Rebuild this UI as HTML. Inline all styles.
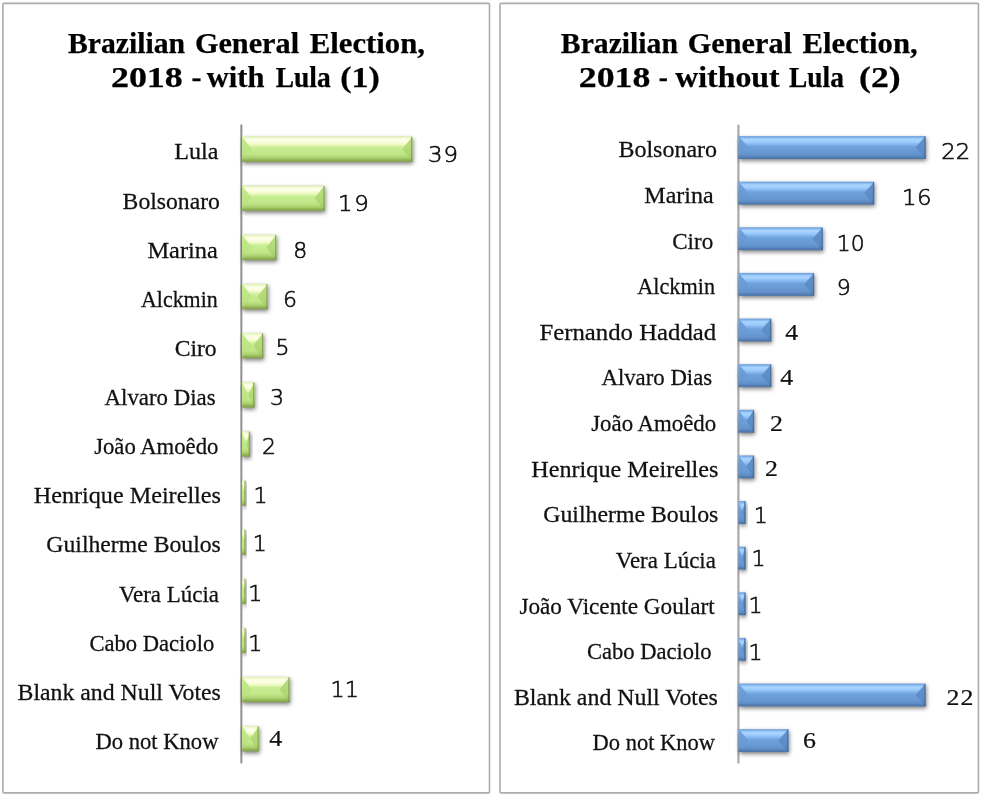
<!DOCTYPE html>
<html lang="en"><head><meta charset="utf-8"><title>Brazilian General Election, 2018</title>
<style>
html,body{margin:0;padding:0;background:#fff}
body{width:982px;height:797px;overflow:hidden}
svg{display:block}
.t{font-family:"Liberation Serif", "DejaVu Serif", serif;font-weight:bold;font-size:28.5px;fill:#000;stroke:#000;stroke-width:0.25px}
.l{font-family:"Liberation Serif", "DejaVu Serif", serif;font-size:23px;fill:#111;stroke:#111;stroke-width:0.26px}
.ns{font-family:"DejaVu Sans Light", "DejaVu Sans", "Liberation Sans", sans-serif;font-size:20.6px;fill:#0c0c0c;stroke:#0c0c0c;stroke-width:0.58px}
.nr{font-family:"Liberation Serif", "DejaVu Serif", serif;font-size:22.3px;fill:#111;stroke:#111;stroke-width:0.2px}
</style></head><body>
<svg width="982" height="797" viewBox="0 0 982 797">
<defs>
<filter id="sh" x="-20%" y="-40%" width="150%" height="200%"><feGaussianBlur in="SourceAlpha" stdDeviation="2"/><feOffset dx="1.2" dy="2.4"/><feComponentTransfer><feFuncA type="linear" slope="0.5"/></feComponentTransfer></filter>
<linearGradient id="gBody" x1="0" y1="0" x2="0" y2="1"><stop offset="0" stop-color="#dcefac"/><stop offset="0.05" stop-color="#eef8cc"/><stop offset="0.12" stop-color="#fcffe6"/><stop offset="0.22" stop-color="#fbfee0"/><stop offset="0.32" stop-color="#eef9c0"/><stop offset="0.42" stop-color="#c9ee95"/><stop offset="0.70" stop-color="#bfe687"/><stop offset="0.85" stop-color="#a9cf6c"/><stop offset="0.9" stop-color="#97b95c"/><stop offset="1" stop-color="#839f4b"/></linearGradient>
<linearGradient id="gSide" x1="0" y1="0" x2="0" y2="1"><stop offset="0" stop-color="#c4eb8c"/><stop offset="0.70" stop-color="#bbe283"/><stop offset="0.85" stop-color="#aed471"/><stop offset="0.9" stop-color="#9dc062"/><stop offset="1" stop-color="#89a851"/></linearGradient>
<linearGradient id="gSideR" x1="0" y1="0" x2="0" y2="1"><stop offset="0" stop-color="#bbe282"/><stop offset="0.70" stop-color="#aed673"/><stop offset="0.85" stop-color="#a5ca69"/><stop offset="0.9" stop-color="#96b85c"/><stop offset="1" stop-color="#84a24e"/></linearGradient>
<linearGradient id="bBody" x1="0" y1="0" x2="0" y2="1"><stop offset="0" stop-color="#6d9edb"/><stop offset="0.07" stop-color="#86b6ee"/><stop offset="0.14" stop-color="#a8d4ff"/><stop offset="0.25" stop-color="#a0cdfc"/><stop offset="0.36" stop-color="#86b7ef"/><stop offset="0.46" stop-color="#6fa2dc"/><stop offset="0.75" stop-color="#6797d1"/><stop offset="0.87" stop-color="#5f8dc5"/><stop offset="0.91" stop-color="#5580b7"/><stop offset="1" stop-color="#4b73a7"/></linearGradient>
<linearGradient id="bSide" x1="0" y1="0" x2="0" y2="1"><stop offset="0" stop-color="#70a4e0"/><stop offset="0.75" stop-color="#6797d1"/><stop offset="0.87" stop-color="#5f8dc5"/><stop offset="0.91" stop-color="#5580b7"/><stop offset="1" stop-color="#4b73a7"/></linearGradient>
<linearGradient id="bSideR" x1="0" y1="0" x2="0" y2="1"><stop offset="0" stop-color="#6393cf"/><stop offset="0.75" stop-color="#5b8ac4"/><stop offset="0.87" stop-color="#5481b9"/><stop offset="0.91" stop-color="#4c76ab"/><stop offset="1" stop-color="#446b9d"/></linearGradient>
</defs>
<rect width="982" height="797" fill="#fff"/>

<rect x="2.85" y="3.4" width="486.65" height="789.5" rx="1" fill="#fff" stroke="#acacac" stroke-width="1.6"/>
<text class="t" y="53.3"><tspan x="68.03" textLength="117.01" lengthAdjust="spacingAndGlyphs">Brazilian</tspan> <tspan x="194.91" textLength="104.17" lengthAdjust="spacingAndGlyphs">General</tspan> <tspan x="309.76" textLength="115.25" lengthAdjust="spacingAndGlyphs">Election,</tspan></text>
<text class="t" y="87.2"><tspan x="110.92" textLength="71.94" lengthAdjust="spacingAndGlyphs">2018</tspan> <tspan x="191.45" textLength="10.01" lengthAdjust="spacingAndGlyphs">-</tspan> <tspan x="206.8" textLength="57.57" lengthAdjust="spacingAndGlyphs">with</tspan> <tspan x="275.72" textLength="54.99" lengthAdjust="spacingAndGlyphs">Lula</tspan> <tspan x="340.21" textLength="39.56" lengthAdjust="spacingAndGlyphs">(1)</tspan></text>
<line x1="241.35" y1="124.6" x2="241.35" y2="763.3" stroke="#909090" stroke-width="2"/>
<g>
<rect x="242" y="136.47" width="170.25" height="25.4" fill="#000" filter="url(#sh)"/>
<rect x="242" y="136.47" width="170.25" height="25.4" fill="url(#gBody)"/>
<path d="M242 136.47L252 149.17L242 161.87Z" fill="url(#gSide)"/>
<path d="M412.25 136.47L402.25 149.17L412.25 161.87Z" fill="url(#gSideR)"/>
<rect x="411.05" y="136.97" width="1.2" height="24.9" fill="#7d9a4b" opacity="0.8"/>
</g>
<g>
<rect x="242" y="185.6" width="82.53" height="25.4" fill="#000" filter="url(#sh)"/>
<rect x="242" y="185.6" width="82.53" height="25.4" fill="url(#gBody)"/>
<path d="M242 185.6L252 198.3L242 211Z" fill="url(#gSide)"/>
<path d="M324.53 185.6L314.53 198.3L324.53 211Z" fill="url(#gSideR)"/>
<rect x="323.33" y="186.1" width="1.2" height="24.9" fill="#7d9a4b" opacity="0.8"/>
</g>
<g>
<rect x="242" y="234.73" width="34.29" height="25.4" fill="#000" filter="url(#sh)"/>
<rect x="242" y="234.73" width="34.29" height="25.4" fill="url(#gBody)"/>
<path d="M242 234.73L252 247.43L242 260.13Z" fill="url(#gSide)"/>
<path d="M276.29 234.73L266.29 247.43L276.29 260.13Z" fill="url(#gSideR)"/>
<rect x="275.09" y="235.23" width="1.2" height="24.9" fill="#7d9a4b" opacity="0.8"/>
</g>
<g>
<rect x="242" y="283.86" width="25.52" height="25.4" fill="#000" filter="url(#sh)"/>
<rect x="242" y="283.86" width="25.52" height="25.4" fill="url(#gBody)"/>
<path d="M242 283.86L252 296.56L242 309.26Z" fill="url(#gSide)"/>
<path d="M267.52 283.86L257.52 296.56L267.52 309.26Z" fill="url(#gSideR)"/>
<rect x="266.32" y="284.36" width="1.2" height="24.9" fill="#7d9a4b" opacity="0.8"/>
</g>
<g>
<rect x="242" y="332.99" width="21.13" height="25.4" fill="#000" filter="url(#sh)"/>
<rect x="242" y="332.99" width="21.13" height="25.4" fill="url(#gBody)"/>
<path d="M242 332.99L252 345.69L242 358.39Z" fill="url(#gSide)"/>
<path d="M263.13 332.99L253.13 345.69L263.13 358.39Z" fill="url(#gSideR)"/>
<rect x="261.93" y="333.49" width="1.2" height="24.9" fill="#7d9a4b" opacity="0.8"/>
</g>
<g>
<rect x="242" y="382.12" width="12.36" height="25.4" fill="#000" filter="url(#sh)"/>
<rect x="242" y="382.12" width="12.36" height="25.4" fill="url(#gBody)"/>
<path d="M242 382.12L248.18 394.82L242 407.52Z" fill="url(#gSide)"/>
<path d="M254.36 382.12L248.18 394.82L254.36 407.52Z" fill="url(#gSideR)"/>
<rect x="253.16" y="382.62" width="1.2" height="24.9" fill="#7d9a4b" opacity="0.8"/>
</g>
<g>
<rect x="242" y="431.25" width="7.97" height="25.4" fill="#000" filter="url(#sh)"/>
<rect x="242" y="431.25" width="7.97" height="25.4" fill="url(#gBody)"/>
<path d="M242 431.25L245.99 443.95L242 456.65Z" fill="url(#gSide)"/>
<path d="M249.97 431.25L245.99 443.95L249.97 456.65Z" fill="url(#gSideR)"/>
<rect x="248.77" y="431.75" width="1.2" height="24.9" fill="#7d9a4b" opacity="0.8"/>
</g>
<g>
<rect x="242" y="480.38" width="3.59" height="25.4" fill="#000" filter="url(#sh)"/>
<rect x="242" y="480.38" width="3.59" height="25.4" fill="url(#gBody)"/>
<path d="M242 480.38L243.79 493.08L242 505.78Z" fill="url(#gSide)"/>
<path d="M245.59 480.38L243.79 493.08L245.59 505.78Z" fill="url(#gSideR)"/>
<rect x="244.39" y="480.88" width="1.2" height="24.9" fill="#7d9a4b" opacity="0.8"/>
</g>
<g>
<rect x="242" y="529.51" width="3.59" height="25.4" fill="#000" filter="url(#sh)"/>
<rect x="242" y="529.51" width="3.59" height="25.4" fill="url(#gBody)"/>
<path d="M242 529.51L243.79 542.21L242 554.91Z" fill="url(#gSide)"/>
<path d="M245.59 529.51L243.79 542.21L245.59 554.91Z" fill="url(#gSideR)"/>
<rect x="244.39" y="530.01" width="1.2" height="24.9" fill="#7d9a4b" opacity="0.8"/>
</g>
<g>
<rect x="242" y="578.64" width="3.59" height="25.4" fill="#000" filter="url(#sh)"/>
<rect x="242" y="578.64" width="3.59" height="25.4" fill="url(#gBody)"/>
<path d="M242 578.64L243.79 591.34L242 604.04Z" fill="url(#gSide)"/>
<path d="M245.59 578.64L243.79 591.34L245.59 604.04Z" fill="url(#gSideR)"/>
<rect x="244.39" y="579.14" width="1.2" height="24.9" fill="#7d9a4b" opacity="0.8"/>
</g>
<g>
<rect x="242" y="627.77" width="3.59" height="25.4" fill="#000" filter="url(#sh)"/>
<rect x="242" y="627.77" width="3.59" height="25.4" fill="url(#gBody)"/>
<path d="M242 627.77L243.79 640.47L242 653.17Z" fill="url(#gSide)"/>
<path d="M245.59 627.77L243.79 640.47L245.59 653.17Z" fill="url(#gSideR)"/>
<rect x="244.39" y="628.27" width="1.2" height="24.9" fill="#7d9a4b" opacity="0.8"/>
</g>
<g>
<rect x="242" y="676.9" width="47.45" height="25.4" fill="#000" filter="url(#sh)"/>
<rect x="242" y="676.9" width="47.45" height="25.4" fill="url(#gBody)"/>
<path d="M242 676.9L252 689.6L242 702.3Z" fill="url(#gSide)"/>
<path d="M289.45 676.9L279.45 689.6L289.45 702.3Z" fill="url(#gSideR)"/>
<rect x="288.25" y="677.4" width="1.2" height="24.9" fill="#7d9a4b" opacity="0.8"/>
</g>
<g>
<rect x="242" y="726.03" width="16.74" height="25.4" fill="#000" filter="url(#sh)"/>
<rect x="242" y="726.03" width="16.74" height="25.4" fill="url(#gBody)"/>
<path d="M242 726.03L250.37 738.73L242 751.43Z" fill="url(#gSide)"/>
<path d="M258.74 726.03L250.37 738.73L258.74 751.43Z" fill="url(#gSideR)"/>
<rect x="257.54" y="726.53" width="1.2" height="24.9" fill="#7d9a4b" opacity="0.8"/>
</g>
<text class="l" x="174.31" y="159.37" textLength="44.16" lengthAdjust="spacingAndGlyphs">Lula</text>
<text class="l" x="122.63" y="208.5" textLength="97.31" lengthAdjust="spacingAndGlyphs">Bolsonaro</text>
<text class="l" x="147.4" y="257.63" textLength="70.54" lengthAdjust="spacingAndGlyphs">Marina</text>
<text class="l" x="140.96" y="306.76" textLength="76.78" lengthAdjust="spacingAndGlyphs">Alckmin</text>
<text class="l" x="174.67" y="355.89" textLength="41.94" lengthAdjust="spacingAndGlyphs">Ciro</text>
<text class="l" x="104.55" y="405.02" textLength="111.02" lengthAdjust="spacingAndGlyphs">Alvaro Dias</text>
<text class="l" x="94.21" y="454.15" textLength="124.14" lengthAdjust="spacingAndGlyphs">João Amoêdo</text>
<text class="l" x="33.71" y="503.28" textLength="187.27" lengthAdjust="spacingAndGlyphs">Henrique Meirelles</text>
<text class="l" x="46.37" y="552.41" textLength="174.45" lengthAdjust="spacingAndGlyphs">Guilherme Boulos</text>
<text class="l" x="118.95" y="601.54" textLength="100.1" lengthAdjust="spacingAndGlyphs">Vera Lúcia</text>
<text class="l" x="89.42" y="650.67" textLength="124.83" lengthAdjust="spacingAndGlyphs">Cabo Daciolo</text>
<text class="l" x="17.52" y="699.8" textLength="203.33" lengthAdjust="spacingAndGlyphs">Blank and Null Votes</text>
<text class="l" x="95.46" y="748.93" textLength="123.02" lengthAdjust="spacingAndGlyphs">Do not Know</text>
<text class="ns" transform="matrix(1.11 0 0 1 0 0)" x="385.53" y="162.3" style="letter-spacing:0.964px">39</text>
<text class="ns" transform="matrix(1.11 0 0 1 0 0)" x="304.42" y="210.9" style="letter-spacing:1.534px">19</text>
<text class="ns" x="293.16" y="257.6" textLength="14.03" lengthAdjust="spacingAndGlyphs">8</text>
<text class="ns" x="282.96" y="307" textLength="14.03" lengthAdjust="spacingAndGlyphs">6</text>
<text class="ns" x="275.63" y="355.1" textLength="14.03" lengthAdjust="spacingAndGlyphs">5</text>
<text class="ns" x="270.11" y="405.4" textLength="14.03" lengthAdjust="spacingAndGlyphs">3</text>
<text class="ns" x="261.96" y="453.6" textLength="14.03" lengthAdjust="spacingAndGlyphs">2</text>
<text class="ns" x="253.4" y="503.3" textLength="14.03" lengthAdjust="spacingAndGlyphs">1</text>
<text class="ns" x="252.65" y="550.8" textLength="14.03" lengthAdjust="spacingAndGlyphs">1</text>
<text class="ns" x="248.34" y="601.3" textLength="14.03" lengthAdjust="spacingAndGlyphs">1</text>
<text class="ns" x="248.34" y="650.9" textLength="14.03" lengthAdjust="spacingAndGlyphs">1</text>
<text class="ns" x="330.57" y="697.4" textLength="28.29" lengthAdjust="spacingAndGlyphs">11</text>
<text class="nr" x="269.23" y="745.5" textLength="12.94" lengthAdjust="spacingAndGlyphs">4</text>
<rect x="500" y="3.4" width="478.45" height="789.5" rx="1" fill="#fff" stroke="#acacac" stroke-width="1.6"/>
<text class="t" y="53.3"><tspan x="560.88" textLength="117.01" lengthAdjust="spacingAndGlyphs">Brazilian</tspan> <tspan x="687.76" textLength="104.17" lengthAdjust="spacingAndGlyphs">General</tspan> <tspan x="802.61" textLength="115.1" lengthAdjust="spacingAndGlyphs">Election,</tspan></text>
<text class="t" y="87.2"><tspan x="578.83" textLength="71.52" lengthAdjust="spacingAndGlyphs">2018</tspan> <tspan x="658.84" textLength="9.12" lengthAdjust="spacingAndGlyphs">-</tspan> <tspan x="675.3" textLength="104.31" lengthAdjust="spacingAndGlyphs">without</tspan> <tspan x="789.02" textLength="54.89" lengthAdjust="spacingAndGlyphs">Lula</tspan> <tspan x="859.03" textLength="41.61" lengthAdjust="spacingAndGlyphs">(2)</tspan></text>
<line x1="738.4" y1="124.7" x2="738.4" y2="763.4" stroke="#a9a9a9" stroke-width="2.2"/>
<g>
<rect x="738.6" y="136.06" width="186.95" height="22.9" fill="#000" filter="url(#sh)"/>
<rect x="738.6" y="136.06" width="186.95" height="22.9" fill="url(#bBody)"/>
<path d="M738.6 136.06L748.6 147.51L738.6 158.96Z" fill="url(#bSide)"/>
<path d="M925.55 136.06L915.55 147.51L925.55 158.96Z" fill="url(#bSideR)"/>
<rect x="924.35" y="136.56" width="1.2" height="22.4" fill="#436a9b" opacity="0.8"/>
</g>
<g>
<rect x="738.6" y="181.68" width="135.5" height="22.9" fill="#000" filter="url(#sh)"/>
<rect x="738.6" y="181.68" width="135.5" height="22.9" fill="url(#bBody)"/>
<path d="M738.6 181.68L748.6 193.13L738.6 204.58Z" fill="url(#bSide)"/>
<path d="M874.1 181.68L864.1 193.13L874.1 204.58Z" fill="url(#bSideR)"/>
<rect x="872.9" y="182.18" width="1.2" height="22.4" fill="#436a9b" opacity="0.8"/>
</g>
<g>
<rect x="738.6" y="227.3" width="84.05" height="22.9" fill="#000" filter="url(#sh)"/>
<rect x="738.6" y="227.3" width="84.05" height="22.9" fill="url(#bBody)"/>
<path d="M738.6 227.3L748.6 238.75L738.6 250.2Z" fill="url(#bSide)"/>
<path d="M822.65 227.3L812.65 238.75L822.65 250.2Z" fill="url(#bSideR)"/>
<rect x="821.45" y="227.8" width="1.2" height="22.4" fill="#436a9b" opacity="0.8"/>
</g>
<g>
<rect x="738.6" y="272.93" width="75.47" height="22.9" fill="#000" filter="url(#sh)"/>
<rect x="738.6" y="272.93" width="75.47" height="22.9" fill="url(#bBody)"/>
<path d="M738.6 272.93L748.6 284.38L738.6 295.82Z" fill="url(#bSide)"/>
<path d="M814.07 272.93L804.07 284.38L814.07 295.82Z" fill="url(#bSideR)"/>
<rect x="812.87" y="273.43" width="1.2" height="22.4" fill="#436a9b" opacity="0.8"/>
</g>
<g>
<rect x="738.6" y="318.55" width="32.6" height="22.9" fill="#000" filter="url(#sh)"/>
<rect x="738.6" y="318.55" width="32.6" height="22.9" fill="url(#bBody)"/>
<path d="M738.6 318.55L748.6 330L738.6 341.45Z" fill="url(#bSide)"/>
<path d="M771.2 318.55L761.2 330L771.2 341.45Z" fill="url(#bSideR)"/>
<rect x="770" y="319.05" width="1.2" height="22.4" fill="#436a9b" opacity="0.8"/>
</g>
<g>
<rect x="738.6" y="364.17" width="32.6" height="22.9" fill="#000" filter="url(#sh)"/>
<rect x="738.6" y="364.17" width="32.6" height="22.9" fill="url(#bBody)"/>
<path d="M738.6 364.17L748.6 375.62L738.6 387.07Z" fill="url(#bSide)"/>
<path d="M771.2 364.17L761.2 375.62L771.2 387.07Z" fill="url(#bSideR)"/>
<rect x="770" y="364.67" width="1.2" height="22.4" fill="#436a9b" opacity="0.8"/>
</g>
<g>
<rect x="738.6" y="409.79" width="15.45" height="22.9" fill="#000" filter="url(#sh)"/>
<rect x="738.6" y="409.79" width="15.45" height="22.9" fill="url(#bBody)"/>
<path d="M738.6 409.79L746.33 421.24L738.6 432.69Z" fill="url(#bSide)"/>
<path d="M754.05 409.79L746.33 421.24L754.05 432.69Z" fill="url(#bSideR)"/>
<rect x="752.85" y="410.29" width="1.2" height="22.4" fill="#436a9b" opacity="0.8"/>
</g>
<g>
<rect x="738.6" y="455.41" width="15.45" height="22.9" fill="#000" filter="url(#sh)"/>
<rect x="738.6" y="455.41" width="15.45" height="22.9" fill="url(#bBody)"/>
<path d="M738.6 455.41L746.33 466.86L738.6 478.31Z" fill="url(#bSide)"/>
<path d="M754.05 455.41L746.33 466.86L754.05 478.31Z" fill="url(#bSideR)"/>
<rect x="752.85" y="455.91" width="1.2" height="22.4" fill="#436a9b" opacity="0.8"/>
</g>
<g>
<rect x="738.6" y="501.03" width="6.88" height="22.9" fill="#000" filter="url(#sh)"/>
<rect x="738.6" y="501.03" width="6.88" height="22.9" fill="url(#bBody)"/>
<path d="M738.6 501.03L742.04 512.48L738.6 523.93Z" fill="url(#bSide)"/>
<path d="M745.48 501.03L742.04 512.48L745.48 523.93Z" fill="url(#bSideR)"/>
<rect x="744.27" y="501.53" width="1.2" height="22.4" fill="#436a9b" opacity="0.8"/>
</g>
<g>
<rect x="738.6" y="546.65" width="6.88" height="22.9" fill="#000" filter="url(#sh)"/>
<rect x="738.6" y="546.65" width="6.88" height="22.9" fill="url(#bBody)"/>
<path d="M738.6 546.65L742.04 558.1L738.6 569.55Z" fill="url(#bSide)"/>
<path d="M745.48 546.65L742.04 558.1L745.48 569.55Z" fill="url(#bSideR)"/>
<rect x="744.27" y="547.15" width="1.2" height="22.4" fill="#436a9b" opacity="0.8"/>
</g>
<g>
<rect x="738.6" y="592.27" width="6.88" height="22.9" fill="#000" filter="url(#sh)"/>
<rect x="738.6" y="592.27" width="6.88" height="22.9" fill="url(#bBody)"/>
<path d="M738.6 592.27L742.04 603.73L738.6 615.18Z" fill="url(#bSide)"/>
<path d="M745.48 592.27L742.04 603.73L745.48 615.18Z" fill="url(#bSideR)"/>
<rect x="744.27" y="592.77" width="1.2" height="22.4" fill="#436a9b" opacity="0.8"/>
</g>
<g>
<rect x="738.6" y="637.9" width="6.88" height="22.9" fill="#000" filter="url(#sh)"/>
<rect x="738.6" y="637.9" width="6.88" height="22.9" fill="url(#bBody)"/>
<path d="M738.6 637.9L742.04 649.35L738.6 660.8Z" fill="url(#bSide)"/>
<path d="M745.48 637.9L742.04 649.35L745.48 660.8Z" fill="url(#bSideR)"/>
<rect x="744.27" y="638.4" width="1.2" height="22.4" fill="#436a9b" opacity="0.8"/>
</g>
<g>
<rect x="738.6" y="683.52" width="186.95" height="22.9" fill="#000" filter="url(#sh)"/>
<rect x="738.6" y="683.52" width="186.95" height="22.9" fill="url(#bBody)"/>
<path d="M738.6 683.52L748.6 694.97L738.6 706.42Z" fill="url(#bSide)"/>
<path d="M925.55 683.52L915.55 694.97L925.55 706.42Z" fill="url(#bSideR)"/>
<rect x="924.35" y="684.02" width="1.2" height="22.4" fill="#436a9b" opacity="0.8"/>
</g>
<g>
<rect x="738.6" y="729.14" width="49.75" height="22.9" fill="#000" filter="url(#sh)"/>
<rect x="738.6" y="729.14" width="49.75" height="22.9" fill="url(#bBody)"/>
<path d="M738.6 729.14L748.6 740.59L738.6 752.04Z" fill="url(#bSide)"/>
<path d="M788.35 729.14L778.35 740.59L788.35 752.04Z" fill="url(#bSideR)"/>
<rect x="787.15" y="729.64" width="1.2" height="22.4" fill="#436a9b" opacity="0.8"/>
</g>
<text class="l" x="618.42" y="157.31" textLength="98.73" lengthAdjust="spacingAndGlyphs">Bolsonaro</text>
<text class="l" x="644.32" y="202.93" textLength="69.42" lengthAdjust="spacingAndGlyphs">Marina</text>
<text class="l" x="672.2" y="248.55" textLength="41" lengthAdjust="spacingAndGlyphs">Ciro</text>
<text class="l" x="637.26" y="294.18" textLength="77.78" lengthAdjust="spacingAndGlyphs">Alckmin</text>
<text class="l" x="539.49" y="339.8" textLength="176.64" lengthAdjust="spacingAndGlyphs">Fernando Haddad</text>
<text class="l" x="601.45" y="385.42" textLength="110.72" lengthAdjust="spacingAndGlyphs">Alvaro Dias</text>
<text class="l" x="591.2" y="431.04" textLength="125.05" lengthAdjust="spacingAndGlyphs">João Amoêdo</text>
<text class="l" x="531.31" y="476.66" textLength="187.17" lengthAdjust="spacingAndGlyphs">Henrique Meirelles</text>
<text class="l" x="543.27" y="522.28" textLength="175.06" lengthAdjust="spacingAndGlyphs">Guilherme Boulos</text>
<text class="l" x="615.85" y="567.9" textLength="100.1" lengthAdjust="spacingAndGlyphs">Vera Lúcia</text>
<text class="l" x="519.4" y="613.52" textLength="195.25" lengthAdjust="spacingAndGlyphs">João Vicente Goulart</text>
<text class="l" x="587.02" y="659.15" textLength="124.62" lengthAdjust="spacingAndGlyphs">Cabo Daciolo</text>
<text class="l" x="513.92" y="704.77" textLength="203.94" lengthAdjust="spacingAndGlyphs">Blank and Null Votes</text>
<text class="l" x="592.57" y="750.39" textLength="122.42" lengthAdjust="spacingAndGlyphs">Do not Know</text>
<text class="ns" x="941.25" y="158.9" textLength="28.93" lengthAdjust="spacingAndGlyphs">22</text>
<text class="ns" transform="matrix(1.11 0 0 1 0 0)" x="812.52" y="205.4" style="letter-spacing:0.453px">16</text>
<text class="ns" x="836.82" y="250.6" textLength="27.77" lengthAdjust="spacingAndGlyphs">10</text>
<text class="ns" x="836.71" y="295" textLength="14.03" lengthAdjust="spacingAndGlyphs">9</text>
<text class="nr" x="785.22" y="339.7" textLength="12.94" lengthAdjust="spacingAndGlyphs">4</text>
<text class="nr" x="780.22" y="384.9" textLength="12.94" lengthAdjust="spacingAndGlyphs">4</text>
<text class="nr" x="770.07" y="431" textLength="12.94" lengthAdjust="spacingAndGlyphs">2</text>
<text class="nr" x="765.02" y="476.2" textLength="12.94" lengthAdjust="spacingAndGlyphs">2</text>
<text class="ns" x="753.79" y="523.2" textLength="14.03" lengthAdjust="spacingAndGlyphs">1</text>
<text class="ns" x="751.54" y="566.1" textLength="14.03" lengthAdjust="spacingAndGlyphs">1</text>
<text class="ns" x="748.5" y="613.1" textLength="14.03" lengthAdjust="spacingAndGlyphs">1</text>
<text class="ns" x="748.5" y="659.5" textLength="14.03" lengthAdjust="spacingAndGlyphs">1</text>
<text class="nr" transform="matrix(1.16 0 0 1 0 0)" x="815.98" y="704.8" style="letter-spacing:0.862px">22</text>
<text class="nr" x="803.13" y="747.8" textLength="12.94" lengthAdjust="spacingAndGlyphs">6</text>
</svg></body></html>
